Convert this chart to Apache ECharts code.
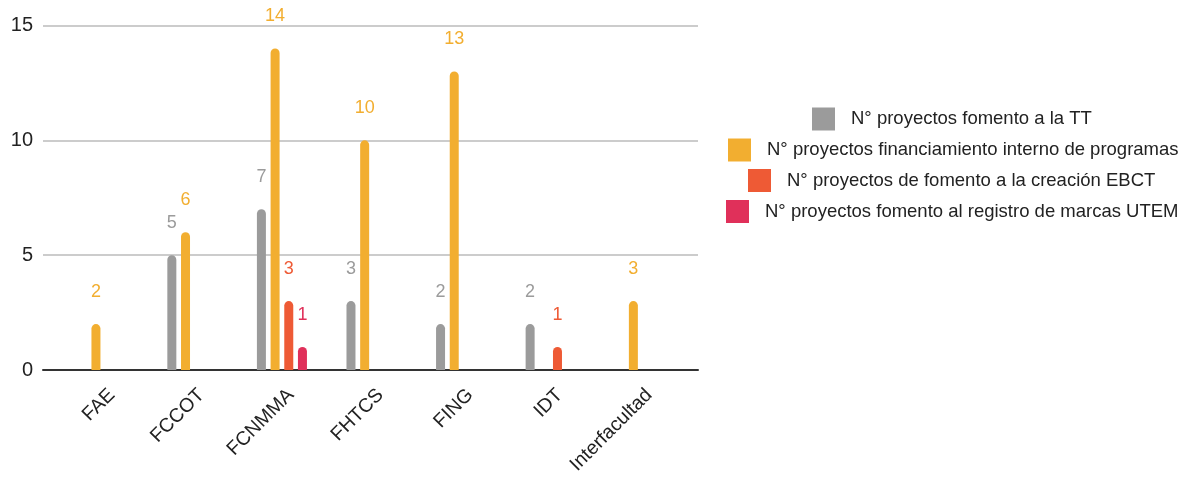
<!DOCTYPE html>
<html>
<head>
<meta charset="utf-8">
<script src="https://cdn.jsdelivr.net/npm/echarts@6/dist/echarts.min.js"></script>
<style>html,body{margin:0;padding:0;background:#fff;}#c{width:1188px;height:478px;}</style>
</head>
<body>
<div id="c"></div>
<script>
const categories = ['FAE', 'FCCOT', 'FCNMMA', 'FHTCS', 'FING', 'IDT', 'Interfacultad'];
const seriesNames = [
  'N° proyectos fomento a la TT',
  'N° proyectos financiamiento interno de programas',
  'N° proyectos de fomento a la creación EBCT',
  'N° proyectos fomento al registro de marcas UTEM'
];
const fomentoTT = [0, 5, 7, 3, 2, 2, 0];
const financiamientoInterno = [2, 6, 14, 10, 13, 0, 3];
const creacionEBCT = [0, 0, 3, 0, 0, 1, 0];
const registroMarcas = [0, 0, 1, 0, 0, 0, 0];
const yTicks = [0, 5, 10, 15];

const colors = ['#9b9b9b', '#f2ae30', '#ee5a35', '#e0305a'];
const values = [fomentoTT, financiamientoInterno, creacionEBCT, registroMarcas];
const FONT = '"Liberation Sans", Arial, sans-serif';

const chart = echarts.init(document.getElementById('c'));
const legendPos = [[812, 107.5], [728, 138.5], [748, 169], [726, 200]];

const option = {
  animation: false,
  textStyle: { fontFamily: FONT },
  grid: [
    { left: 43, width: 655, top: 25.5, bottom: 108 },
    { left: 58, width: 627, top: 25.5, bottom: 108 },
    { left: 67, width: 627, top: 25.5, bottom: 108 }
  ],
  xAxis: [
    { gridIndex: 0, type: 'value', min: 0, max: 1,
      axisLine: { show: true, lineStyle: { color: '#333', width: 2 } },
      axisTick: { show: false }, axisLabel: { show: false }, splitLine: { show: false } },
    { gridIndex: 1, type: 'category', data: categories,
      axisLine: { show: false }, axisTick: { show: false }, axisLabel: { show: false } },
    { gridIndex: 2, type: 'category', data: categories,
      axisLine: { show: false }, axisTick: { show: false },
      axisLabel: { rotate: 45, margin: 22, fontSize: 19.5, color: '#222', fontFamily: FONT, interval: 0 } }
  ],
  yAxis: [
    { gridIndex: 0, type: 'value', min: yTicks[0], max: yTicks[yTicks.length - 1], interval: 5,
      axisLine: { show: false }, axisTick: { show: false },
      axisLabel: { fontSize: 20, color: '#222', margin: 10, fontFamily: FONT },
      splitLine: { lineStyle: { color: '#cccccc', width: 2 } } },
    { gridIndex: 1, type: 'value', min: 0, max: 15, show: false },
    { gridIndex: 2, type: 'value', min: 0, max: 15, show: false }
  ],
  legend: seriesNames.map((n, i) => ({
    data: [n], left: legendPos[i][0], top: legendPos[i][1], orient: 'vertical',
    padding: 0, itemWidth: 23, itemHeight: 23, icon: 'rect',
    textStyle: { fontSize: 18.5, color: '#222', fontFamily: FONT, padding: [0, 0, 0, 11] }
  })),
  series: seriesNames.map((n, i) => ({
    name: n, type: 'bar', xAxisIndex: 1, yAxisIndex: 1,
    barWidth: 9, barGap: '52%',
    itemStyle: { color: colors[i], borderRadius: [4.5, 4.5, 0, 0] },
    label: { show: true, position: 'top', distance: 23, fontSize: 18, color: colors[i],
      fontFamily: FONT, textBorderColor: '#fff', textBorderWidth: 3 },
    data: values[i].map(v => v === 0 ? null : v)
  }))
};
chart.setOption(option);
</script>
</body>
</html>
